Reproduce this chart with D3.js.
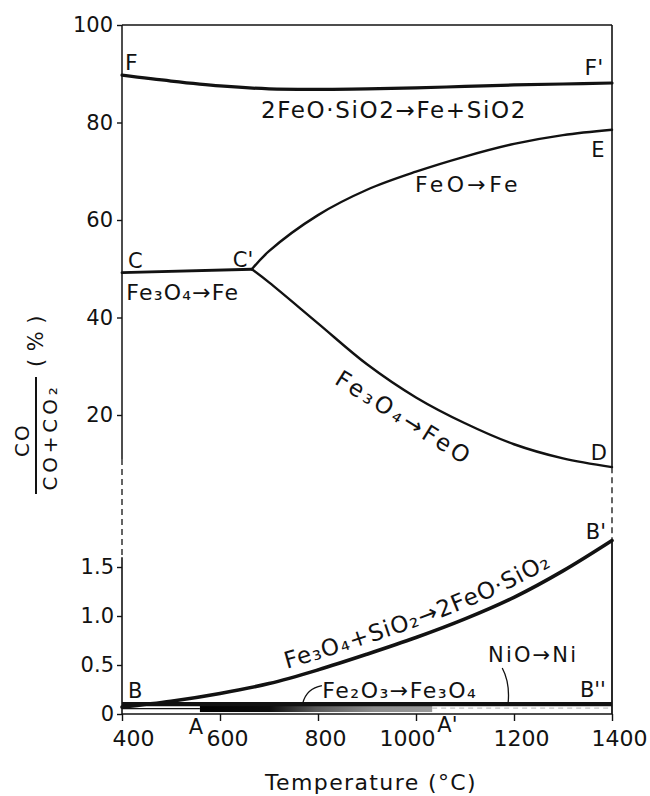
<!DOCTYPE html>
<html>
<head>
<meta charset="utf-8">
<script src="https://cdn.jsdelivr.net/npm/d3@7"></script>
<style>
  html, body { margin: 0; padding: 0; background: #fff; }
  svg { display: block; font-family: "DejaVu Sans", sans-serif; }
</style>
</head>
<body>
<svg id="chart" width="650" height="796"></svg>
<script>
// ---- data -------------------------------------------------------------
// Temperature grid (°C)
const temps = [400, 500, 600, 700, 800, 900, 1000, 1100, 1200, 1300, 1400];

// Upper panel: CO/(CO+CO2) in %
const fayaliteToFe = [89.7, 88.5, 87.5, 86.9, 86.8, 86.9, 87.1, 87.4, 87.7, 87.9, 88.1]; // F – F'
const magnetiteFeTemps = [400, 665];
const magnetiteToFe = [49.2, 49.9];                                                      // C – C'
const wustiteTemps = [665, 700, 800, 900, 1000, 1100, 1200, 1300, 1400];
const wustiteToFe = [49.9, 53.6, 61.0, 66.2, 69.9, 73.0, 75.6, 77.4, 78.5];              // C' – E
const magnetiteToWustite = [49.9, 47.2, 38.8, 30.4, 23.6, 18.3, 14.0, 11.1, 9.3];         // C' – D

// Lower panel: CO/(CO+CO2) in %
const magnetiteSilica = [0.07, 0.13, 0.21, 0.31, 0.45, 0.61, 0.78, 0.97, 1.19, 1.46, 1.77]; // B – B'
const nickelLevel = 0.1;                 // B – B''
const hematiteRange = [559, 1033];       // A – A'
const hematiteBand = [0.02, 0.1];

// Axes
const xTicks = [400, 600, 800, 1000, 1200, 1400];
const yTopTicks = [20, 40, 60, 80, 100];
const yBotTicks = [0, 0.5, 1.0, 1.5];
const yBotTickLabels = ["0", "0.5", "1.0", "1.5"];

// ---- setup ------------------------------------------------------------
const ink = "#121212";
const svg = d3.select("#chart");

const x = d3.scaleLinear().domain([400, 1400]).range([122, 612]);
const yTop = d3.scaleLinear().domain([20, 100]).range([415, 25]);
const yBot = d3.scaleLinear().domain([0, 1.5]).range([714, 567]);

const topFloor = 11;   // where the upper frame stops
const botCeil = 1.6;   // where the lower frame starts

const zip = (xs, ys) => xs.map((t, i) => [t, ys[i]]);
const curve = yScale => d3.line()
  .x(d => x(d[0])).y(d => yScale(d[1]))
  .curve(d3.curveCatmullRom.alpha(0.5));

// ---- text helpers -----------------------------------------------------
// '_3' becomes the subscript digit '₃'
const chem = s => s.replace(/_(\d)/g, (m, d) => String.fromCharCode(0x2080 + Number(d)));
function fitWidth(t, target) {
  const n = t.text().length;
  const w = t.node().getComputedTextLength();
  t.attr("letter-spacing", ((target - w) / n).toFixed(2));
}
function label(parent, str, px, py, o = {}) {
  const size = o.size || 20;
  const t = parent.append("text")
    .attr("x", px).attr("y", py)
    .attr("text-anchor", o.anchor || "middle")
    .attr("dominant-baseline", "central")
    .attr("font-size", size)
    .attr("fill", ink)
    .text(chem(str));
  if (o.transform) t.attr("transform", o.transform);
  if (o.width) fitWidth(t, o.width);
  return t;
}

// ---- frame ------------------------------------------------------------
const frame = svg.append("g").attr("stroke", ink).attr("fill", "none");
const seg = (x1, y1, x2, y2, w, dash) => {
  const l = frame.append("line").attr("x1", x1).attr("y1", y1).attr("x2", x2).attr("y2", y2)
    .attr("stroke-width", w);
  if (dash) l.attr("stroke-dasharray", dash);
  return l;
};
const yD = magnetiteToWustite[magnetiteToWustite.length - 1];
const yB1 = magnetiteSilica[magnetiteSilica.length - 1];

seg(x(400), yTop(100), x(1400), yTop(100), 1.6);
seg(x(400), yTop(100), x(400), yTop(topFloor), 1.5);
seg(x(1400), yTop(100), x(1400), yTop(yD), 1.6);
seg(x(400), yTop(topFloor), x(400), yBot(botCeil), 1.3, "6 4");
seg(x(1400), yTop(yD), x(1400), yBot(yB1), 1.3, "6 4");
seg(x(400), yBot(botCeil), x(400), yBot(0), 1.6);
seg(x(1400), yBot(yB1), x(1400), yBot(0), 1.8);
seg(x(400), yBot(0), x(1400), yBot(0), 1.6);

// ---- axes -------------------------------------------------------------
function styleAxis(g, size) {
  g.select(".domain").remove();
  g.selectAll("line").attr("stroke", ink).attr("stroke-width", 1.4);
  g.selectAll("text").attr("fill", ink).attr("font-size", size)
    .attr("font-family", "DejaVu Sans, sans-serif");
}
svg.append("g")
  .attr("transform", `translate(${x(400)},0)`)
  .call(d3.axisLeft(yTop).tickValues(yTopTicks).tickSize(5).tickPadding(4))
  .call(g => styleAxis(g, 21));

svg.append("g")
  .attr("transform", `translate(${x(400)},0)`)
  .call(d3.axisLeft(yBot).tickValues(yBotTicks)
    .tickFormat((d, i) => yBotTickLabels[i]).tickSize(5).tickPadding(3))
  .call(g => styleAxis(g, 21));

// tick labels sit a little right of their ticks; 1000 leans left to leave room for A'
const xLabelShift = d => (d === 1000 ? -9 : d === 400 ? 11 : 7);
svg.append("g")
  .attr("transform", `translate(0,${yBot(0)})`)
  .call(d3.axisBottom(x).tickValues(xTicks).tickFormat(d3.format("d")).tickSize(7).tickPadding(9))
  .call(g => styleAxis(g, 22))
  .call(g => g.selectAll("text").attr("dx", xLabelShift));

// ---- upper panel curves -----------------------------------------------
const upper = svg.append("g").attr("fill", "none").attr("stroke", ink)
  .attr("stroke-linecap", "round").attr("stroke-linejoin", "round");
upper.append("path").attr("d", curve(yTop)(zip(temps, fayaliteToFe))).attr("stroke-width", 3.2);
upper.append("path").attr("d", curve(yTop)(zip(magnetiteFeTemps, magnetiteToFe))).attr("stroke-width", 2.8);
upper.append("path").attr("d", curve(yTop)(zip(wustiteTemps, wustiteToFe))).attr("stroke-width", 2.4);
upper.append("path").attr("d", curve(yTop)(zip(wustiteTemps, magnetiteToWustite))).attr("stroke-width", 2.4);

// ---- lower panel ------------------------------------------------------
const defs = svg.append("defs");
const grad = defs.append("linearGradient").attr("id", "hematite")
  .attr("x1", 0).attr("x2", 1).attr("y1", 0).attr("y2", 0);
[[0, "#000"], [0.3, "#0d0d0d"], [0.5, "#5a5a5a"], [0.75, "#8c8c8c"], [1, "#9a9a9a"]]
  .forEach(([o, c]) => grad.append("stop").attr("offset", o).attr("stop-color", c));

svg.append("rect")
  .attr("x", x(hematiteRange[0])).attr("width", x(hematiteRange[1]) - x(hematiteRange[0]))
  .attr("y", yBot(hematiteBand[1])).attr("height", yBot(hematiteBand[0]) - yBot(hematiteBand[1]))
  .attr("fill", "url(#hematite)");

// thin rules under the nickel line, either side of the hematite band
svg.append("line")
  .attr("x1", x(400)).attr("x2", x(hematiteRange[0]))
  .attr("y1", yBot(0.055)).attr("y2", yBot(0.055))
  .attr("stroke", ink).attr("stroke-width", 1.1);
svg.append("line")
  .attr("x1", x(hematiteRange[1])).attr("x2", x(1400))
  .attr("y1", yBot(0.06)).attr("y2", yBot(0.06))
  .attr("stroke", "#b5b5b5").attr("stroke-width", 1).attr("stroke-dasharray", "5 4");

svg.append("line")
  .attr("x1", x(400)).attr("x2", x(1400))
  .attr("y1", yBot(nickelLevel)).attr("y2", yBot(nickelLevel))
  .attr("stroke", ink).attr("stroke-width", 4.2);

const bPath = svg.append("path").attr("id", "bcurve")
  .attr("d", curve(yBot)(zip(temps, magnetiteSilica)))
  .attr("fill", "none").attr("stroke", ink).attr("stroke-width", 3.6)
  .attr("stroke-linecap", "round");

// leader lines
const leaders = svg.append("g").attr("fill", "none").attr("stroke", ink).attr("stroke-width", 1.3);
leaders.append("path").attr("d",
  `M${x(769)},${yBot(0.11)} Q${x(776)},${yBot(0.26)} ${x(808)},${yBot(0.29)}`);
leaders.append("path").attr("d",
  `M${x(1176)},${yBot(0.47)} Q${x(1192)},${yBot(0.32)} ${x(1188)},${yBot(0.11)}`);

// ---- annotations ------------------------------------------------------
const ann = svg.append("g");
const L = 21;
label(ann, "F", x(406), yTop(92.4), { size: 22, anchor: "start" });
label(ann, "F'", x(1363), yTop(91.2), { size: 22 });
label(ann, "2FeO·SiO2→Fe+SiO2", x(955), yTop(82.6), { size: 23, width: 266 });
label(ann, "E", x(1371), yTop(74.4), { size: L });
label(ann, "FeO→Fe", x(1106), yTop(67.2), { size: 22, width: 106 });
label(ann, "C", x(427), yTop(51.6), { size: L });
label(ann, "C'", x(647), yTop(51.8), { size: L });
label(ann, "Fe_3O_4→Fe", x(524), yTop(45.2), { size: 22, width: 113 });
label(ann, "Fe_3O_4→FeO", 0, 0, {
  size: 23, width: 157,
  transform: `translate(${x(976)},${yTop(19.4)}) rotate(32)`
});
label(ann, "D", x(1373), yTop(12.2), { size: L });

label(ann, "B'", x(1367), yBot(1.86), { size: L });
label(ann, "B", x(427), yBot(0.235), { size: L });
label(ann, "B''", x(1361), yBot(0.245), { size: L });
label(ann, "NiO→Ni", x(1239), yBot(0.60), { size: 21, width: 90 });
label(ann, "Fe_2O_3→Fe_3O_4", x(967), yBot(0.235), { size: 22, width: 155 });
label(ann, "A", x(551), yBot(-0.13), { size: L });
label(ann, "A'", x(1064), yBot(-0.11), { size: L });

// reaction label riding on the B – B' curve, set in two runs along the path
{
  const node = bPath.node();
  const total = node.getTotalLength();
  const lengthAtX = px => {
    let lo = 0, hi = total;
    for (let k = 0; k < 40; k++) {
      const mid = (lo + hi) / 2;
      if (node.getPointAtLength(mid).x < px) lo = mid; else hi = mid;
    }
    return lo;
  };
  const s0 = lengthAtX(x(742)), s1 = lengthAtX(x(1288));
  const parts = ["Fe_3O_4+SiO_2", "→2FeO·SiO_2"].map(chem);
  const runs = parts.map(p => {
    const t = svg.append("text").attr("font-size", 23).attr("fill", ink).attr("dy", -10);
    const tp = t.append("textPath").attr("href", "#bcurve").text(p);
    return { t, tp, n: p.length, w: t.node().getComputedTextLength() };
  });
  const nAll = d3.sum(runs, r => r.n);
  const gap = (s1 - s0 - d3.sum(runs, r => r.w)) / nAll;
  let offset = s0;
  runs.forEach(r => {
    r.t.attr("letter-spacing", gap.toFixed(2));
    r.tp.attr("startOffset", offset);
    offset += r.w + gap * r.n;
  });
}

// axis titles
label(svg, "Temperature (°C)", (x(400) + x(1400)) / 2 + 4, 782, { size: 22, width: 212 });

const yl = svg.append("g").attr("transform", "translate(36,436) rotate(-90)");
yl.append("line").attr("x1", -58).attr("x2", 59).attr("y1", 0).attr("y2", 0)
  .attr("stroke", ink).attr("stroke-width", 2);
label(yl, "CO", -4, -14, { size: 20, width: 34 });
label(yl, "CO+CO_2", -1, 14, { size: 20, width: 107 });
label(yl, "( % )", 95, 0, { size: 21, width: 52 });
</script>
</body>
</html>
